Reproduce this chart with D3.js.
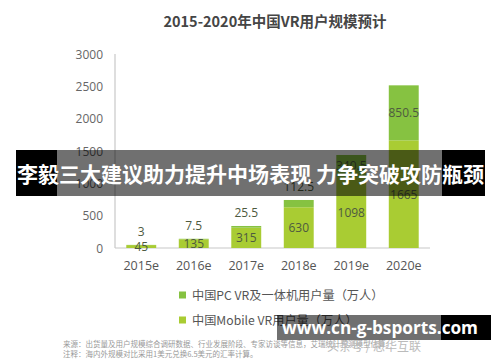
<!DOCTYPE html>
<html><head><meta charset="utf-8">
<script src="https://cdn.jsdelivr.net/npm/d3@7/dist/d3.min.js"></script>
<style>
html,body{margin:0;padding:0;background:#fff;}
svg{display:block;}
</style>
</head><body>
<script>
const title = "2015-2020年中国VR用户规模预计";
const categories = ["2015e","2016e","2017e","2018e","2019e","2020e"];
const mobileVR = [45,135,315,630,1098,1665];
const pcVR = [3,7.5,25.5,112.5,340.5,850.5];
const seriesNames = ["中国PC VR及一体机用户量（万人）","中国Mobile VR用户量（万人）"];
const yTicks = [0,500,1000,1500,2000,2500,3000];
const sourceLines = ["来源：出货量及用户规模综合调研数据、行业发展阶段、专家访谈等信息，艾瑞统计预测模型估算。","注释：海内外规模对比采用1美元兑换6.5美元的汇率计算。"];
const credit = "头条号 / 思华互联";
const bannerText = "李毅三大建议助力提升中场表现 力争突破攻防瓶颈";
const watermark = "www.cn-g-bsports.com";

const W=500,H=362;
const svg=d3.select("body").append("svg").attr("width",W).attr("height",H);
const font="'Open Sans','Noto Sans CJK SC',sans-serif";
const cjk="'Noto Sans CJK SC','Open Sans',sans-serif";

svg.append("text").attr("x",275).attr("y",20).attr("text-anchor","middle")
  .attr("dominant-baseline","central").attr("font-family",cjk).attr("font-weight","bold")
  .attr("font-size",14.5).attr("fill","#454545").text(title);

const x=d3.scaleBand().domain(categories).range([115,430]).paddingInner(0.43).paddingOuter(0.215);
const y=d3.scaleLinear().domain([0,3000]).range([248,54]);

// axes
svg.append("line").attr("x1",115).attr("x2",115).attr("y1",y(3000)).attr("y2",y(0)).attr("stroke","#c8c8c8").attr("stroke-width",1.2);
svg.append("line").attr("x1",115).attr("x2",430).attr("y1",y(0)).attr("y2",y(0)).attr("stroke","#c8c8c8").attr("stroke-width",1.2);
svg.selectAll(".yt").data(yTicks).enter().append("text")
  .attr("x",103).attr("y",d=>y(d)).attr("text-anchor","end").attr("dominant-baseline","central")
  .attr("font-family",font).attr("font-size",12).attr("fill","#666").text(d=>d);
svg.selectAll(".xt").data(categories).enter().append("text")
  .attr("x",d=>x(d)+x.bandwidth()/2).attr("y",265).attr("text-anchor","middle").attr("dominant-baseline","central")
  .attr("font-family",font).attr("font-size",12.5).attr("fill","#555").text(d=>d);

const data=categories.map((c,i)=>({cat:c,mobile:mobileVR[i],pc:pcVR[i]}));
const stack=d3.stack().keys(["mobile","pc"])(data);
const colors={mobile:"#a9cc33",pc:"#86c241"};
stack.forEach(layer=>{
  svg.selectAll(".b"+layer.key).data(layer).enter().append("rect")
    .attr("x",d=>x(d.data.cat)).attr("width",x.bandwidth())
    .attr("y",d=>y(d[1])).attr("height",d=>y(d[0])-y(d[1]))
    .attr("fill",colors[layer.key]);
});
// labels
stack.forEach(layer=>{
  svg.selectAll(".l"+layer.key).data(layer).enter().append("text")
    .attr("x",d=>x(d.data.cat)+x.bandwidth()/2)
    .attr("y",d=>{const h=y(d[0])-y(d[1]);
       if(layer.key==="pc" && h<14) return y(d[1])-13;
       return (y(d[0])+y(d[1]))/2;})
    .attr("text-anchor","middle").attr("dominant-baseline","central")
    .attr("font-family",font).attr("font-size",12).attr("fill","#4e5a40")
    .text(d=>d.data[layer.key]);
});

// legend
const legColors=[colors.pc,colors.mobile];
seriesNames.forEach((n,i)=>{
  const ly=295+i*25;
  svg.append("rect").attr("x",179).attr("y",ly-3.5).attr("width",7).attr("height",7).attr("fill",legColors[i]);
  svg.append("text").attr("x",192).attr("y",ly).attr("dominant-baseline","central")
    .attr("font-family",cjk).attr("font-size",12.2).attr("fill","#555").text(n);
});
// source
sourceLines.forEach((s,i)=>{
  svg.append("text").attr("x",63).attr("y",343+i*10).attr("dominant-baseline","central")
    .attr("font-family",cjk).attr("font-size",7.5).attr("fill","#999").text(s);
});
svg.append("text").attr("x",327).attr("y",345).attr("dominant-baseline","central")
  .attr("font-family",cjk).attr("font-size",12).attr("fill","#bbb").text(credit);

// banner overlay
svg.append("rect").attr("x",16).attr("y",150).attr("width",41).attr("height",46).attr("fill","#000");
svg.append("rect").attr("x",57).attr("y",150).attr("width",385).attr("height",46).attr("fill","rgba(0,0,0,0.56)");
svg.append("rect").attr("x",442).attr("y",150).attr("width",43).attr("height",46).attr("fill","#000");
svg.append("text").attr("x",250.5).attr("y",173).attr("text-anchor","middle").attr("dominant-baseline","central")
  .attr("font-family",cjk).attr("font-weight","bold").attr("font-size",21).attr("fill","#fff")
  .attr("textLength",467).attr("lengthAdjust","spacingAndGlyphs").text(bannerText);

// watermark overlay
svg.append("rect").attr("x",277).attr("y",315).attr("width",164).attr("height",25).attr("fill","rgba(0,0,0,0.56)");
svg.append("rect").attr("x",441).attr("y",315).attr("width",50).attr("height",25).attr("fill","#000");
svg.append("text").attr("x",380).attr("y",327).attr("text-anchor","middle").attr("dominant-baseline","central")
  .attr("font-family","'Open Sans','DejaVu Sans',sans-serif").attr("font-weight","bold").attr("font-size",17).attr("fill","#fff")
  .attr("textLength",196).attr("lengthAdjust","spacingAndGlyphs").text(watermark);
</script>
</body></html>
